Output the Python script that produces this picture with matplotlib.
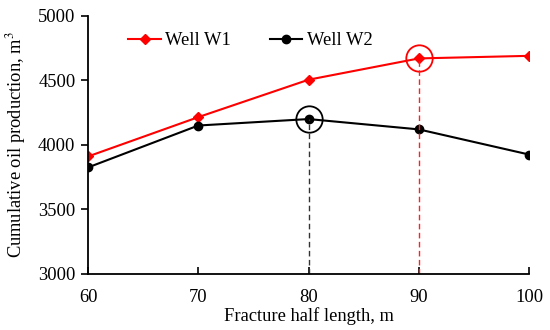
import matplotlib
matplotlib.use("Agg")
import matplotlib.pyplot as plt

plt.rcParams['font.family'] = ['Liberation Serif', 'DejaVu Serif']
plt.rcParams['mathtext.fontset'] = 'stix'

# data
half_length = [60, 70, 80, 90, 100]
well_w1 = [3910, 4215, 4505, 4670, 4690]
well_w2 = [3825, 4150, 4200, 4120, 3925]
opt_w1 = (90, 4670)
opt_w2 = (80, 4200)

fs = 13.3
fig = plt.figure(figsize=(5.5, 3.3), dpi=100)
ax = fig.add_axes([0.16, 0.17, 0.802, 0.782])

ax.plot(half_length, well_w1, '-D', color='red', lw=1.5, ms=5, label='Well W1')
ax.plot(half_length, well_w2, '-o', color='black', lw=1.5, ms=6, label='Well W2')

# optimum markers with dashed drop lines
ax.plot([opt_w1[0]], [opt_w1[1]], 'o', ms=19, mfc='none', mec='red', mew=1.3)
ax.plot([opt_w2[0]], [opt_w2[1]], 'o', ms=19, mfc='none', mec='black', mew=1.3)
ax.plot([opt_w1[0], opt_w1[0]], [3000, opt_w1[1]], '--', color='#ff2020', lw=1.0, dashes=(4, 2.5))
ax.plot([opt_w2[0], opt_w2[0]], [3000, opt_w2[1]], '--', color='#333333', lw=1.0, dashes=(4, 2.5))

ax.set_xlim(60, 100)
ax.set_ylim(3000, 5000)
ax.set_xticks([60, 70, 80, 90, 100])
ax.set_yticks([3000, 3500, 4000, 4500, 5000])
ax.tick_params(axis='x', direction='in', length=5, width=1.2, labelsize=fs, pad=11)
ax.tick_params(axis='y', direction='out', length=5, width=1.2, labelsize=fs, pad=4)
for s in ['top', 'right']:
    ax.spines[s].set_visible(False)
for s in ['left', 'bottom']:
    ax.spines[s].set_linewidth(1.3)

ax.set_xlabel('Fracture half length, m', fontsize=fs, labelpad=1)
ax.set_ylabel('Cumulative oil production, m$^3$', fontsize=fs, labelpad=7)

ax.legend(loc='upper left', bbox_to_anchor=(0.075, 0.965), ncol=2, frameon=False,
          fontsize=fs, handlelength=1.75, columnspacing=2.1, handletextpad=0.25,
          borderaxespad=0)

fig.savefig('out.png', dpi=100)
